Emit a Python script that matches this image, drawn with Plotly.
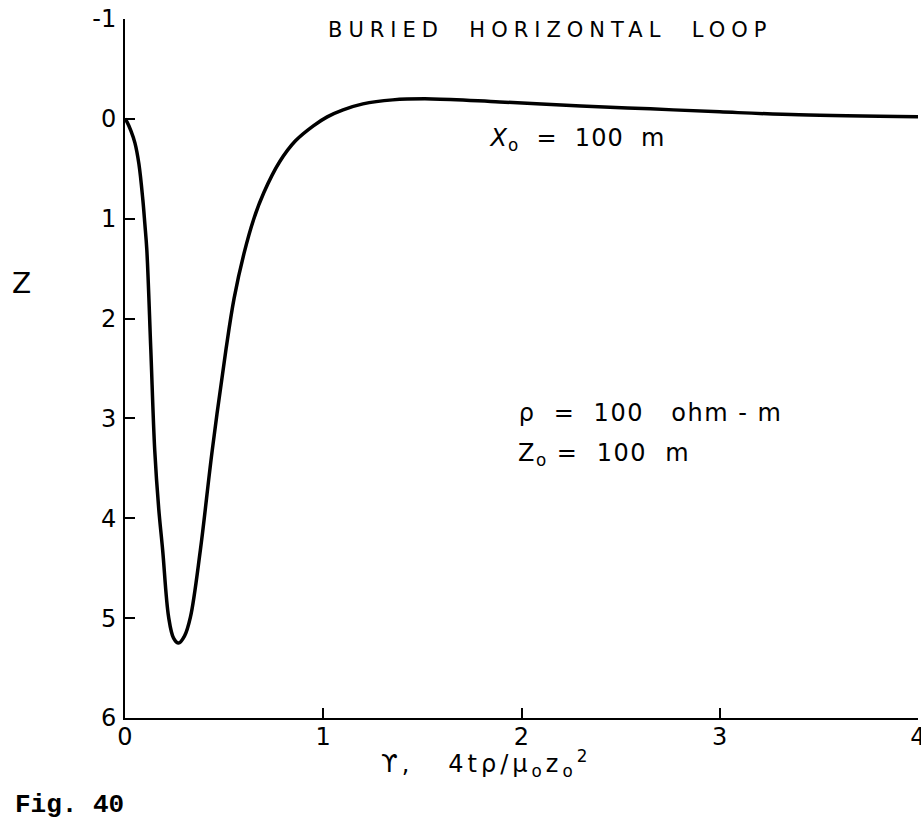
import plotly.graph_objects as go

# Normalised time tau and the vertical field response Z of the buried loop
tau = [0.0, 0.01, 0.03, 0.05, 0.07, 0.09, 0.10, 0.11, 0.13, 0.15, 0.17,
       0.19, 0.22, 0.245, 0.27, 0.30, 0.33, 0.38, 0.44, 0.51, 0.55, 0.60,
       0.65, 0.70, 0.78, 0.86, 0.95, 1.02, 1.10, 1.20, 1.35, 1.55, 1.89,
       2.30, 2.65, 3.00, 3.40, 4.00]
z_resp = [0.0, 0.03, 0.12, 0.24, 0.45, 0.81, 1.05, 1.31, 2.30, 3.32, 3.90,
          4.32, 4.99, 5.20, 5.25, 5.18, 4.99, 4.32, 3.32, 2.30, 1.80, 1.35,
          1.00, 0.74, 0.43, 0.22, 0.07, -0.02, -0.09, -0.15, -0.19, -0.20,
          -0.17, -0.13, -0.10, -0.07, -0.04, -0.02]

x_ticks = [0, 1, 2, 3, 4]
y_ticks = [-1, 0, 1, 2, 3, 4, 5, 6]

FONT = "DejaVu Sans"

fig = go.Figure()
fig.add_trace(go.Scatter(
    x=tau, y=z_resp, mode="lines",
    line=dict(color="black", width=3.5, shape="spline", smoothing=1.0),
    showlegend=False, hoverinfo="skip",
))

axis_common = dict(
    showgrid=False, zeroline=False, showline=True, linecolor="black",
    linewidth=2, ticks="inside", ticklen=10, tickwidth=2, tickcolor="black",
    tickfont=dict(family=FONT, size=24, color="black"),
    automargin=False,
)

fig.update_xaxes(range=[0, 4], tickvals=x_ticks, ticktext=[str(v) for v in x_ticks],
                 ticklabelstandoff=-4, ticklabeloverflow="allow", **axis_common)
fig.update_yaxes(range=[6, -1], tickvals=y_ticks, ticktext=[str(v) for v in y_ticks],
                 ticklabelstandoff=2, **axis_common)

def note(text, x, y, size=24, xanchor="left", family=FONT):
    fig.add_annotation(text=text, x=x, y=y, xref="paper", yref="paper",
                       xanchor=xanchor, yanchor="middle", showarrow=False,
                       font=dict(family=family, size=size, color="black"))

note("BURIED  HORIZONTAL  LOOP", 0.536, 0.984, size=21, xanchor="center")   # 0
note("<i>X</i><sub>o</sub>  =  100  m", 0.464, 0.827)                        # 1
note("ρ  =  100   ohm - m", 0.512, 0.4363)                                   # 2
note("Z<sub>o</sub> =  100  m", 0.5045, 0.3763)                              # 3
note("Z", -0.130, 0.6223, size=28, xanchor="center")                         # 4
note("ϒ,   4tρ/μ<sub>o</sub>z<sub>o</sub><sup>2</sup>", 0.455, -0.0644,
     xanchor="center")                                                       # 5
note("<b>Fig. 40</b>", -0.1412, -0.1245, size=26, family="Liberation Mono")  # 6

fig.update_layout(
    width=921, height=819,
    margin=dict(l=125, r=3, t=19, b=101, autoexpand=False),
    paper_bgcolor="white", plot_bgcolor="white",
)

# Wide, stencil-style lettering for the figure captions
letter_js = """
var gd = document.getElementById('{plot_id}');
var spacing = {0: 6, 1: 1, 2: 1.5, 3: 1.5, 5: 4};
Object.keys(spacing).forEach(function (i) {
  var t = gd.querySelector('.annotation[data-index="' + i + '"] text');
  if (t) { t.style.letterSpacing = spacing[i] + 'px'; }
});
"""

fig.write_html("out.html", post_script=letter_js)
